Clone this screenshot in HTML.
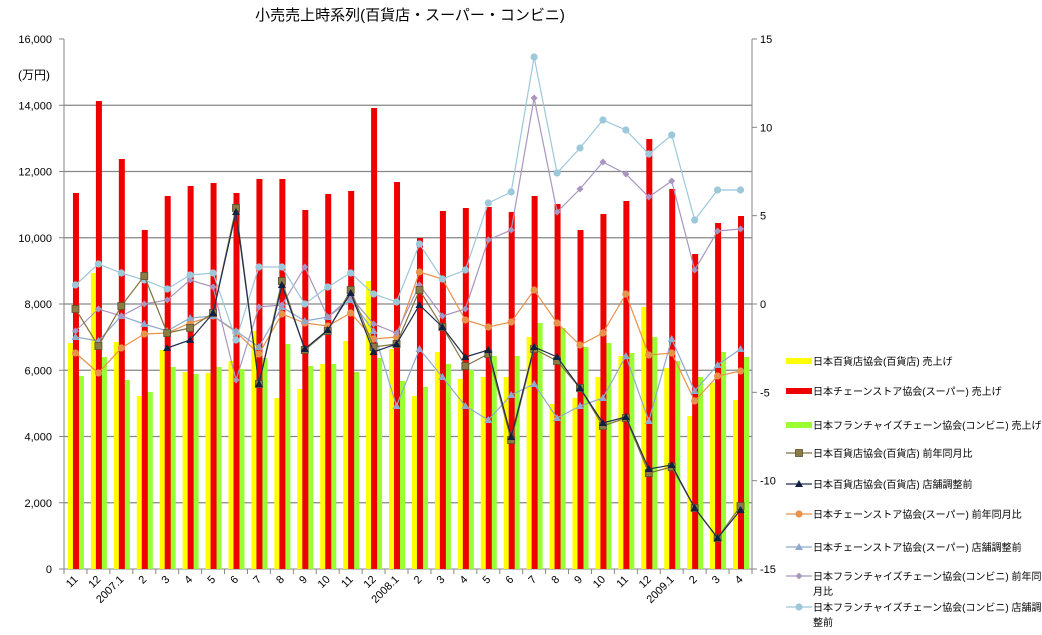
<!DOCTYPE html>
<html><head><meta charset="utf-8">
<style>
html,body{margin:0;padding:0;background:#fff;}
svg{display:block;font-family:"Liberation Sans","Noto Sans CJK JP",sans-serif;}
</style></head>
<body>
<svg id="c" width="1042" height="635" viewBox="0 0 1042 635" xmlns="http://www.w3.org/2000/svg">
<text x="410" y="20" font-size="15" text-anchor="middle" fill="#000">小売売上時系列(百貨店・スーパー・コンビニ)</text>
<text x="18" y="79" font-size="12" fill="#000">(万円)</text>
</svg>
<script>
const s=document.getElementById('c');const NS='http://www.w3.org/2000/svg';
function el(t,a,txt){const e=document.createElementNS(NS,t);for(const k in a)e.setAttribute(k,a[k]);if(txt!==undefined)e.textContent=txt;s.appendChild(e);return e;}
const X0=64,X1=752,T=39,B=569,W=(X1-X0)/30;
for(let i=1;i<8;i++){const y=B-i*(B-T)/8;el('line',{x1:X0,x2:X1,y1:y,y2:y,stroke:'#868686','stroke-width':1.2});}
el('line',{x1:X0,x2:X0,y1:T,y2:B,stroke:'#868686'});
const lv=['0','2,000','4,000','6,000','8,000','10,000','12,000','14,000','16,000'];
for(let i=0;i<=8;i++){const y=B-i*(B-T)/8;el('line',{x1:X0-5,x2:X0,y1:y,y2:y,stroke:'#868686'});el('text',{x:52,y:y+4,'font-size':11,'text-anchor':'end'},lv[i]);}
el('line',{x1:X1,x2:X1,y1:T,y2:B,stroke:'#868686'});
const rv=['-15','-10','-5','0','5','10','15'];
for(let i=0;i<=6;i++){const y=B-i*(B-T)/6;el('line',{x1:X1,x2:X1+5,y1:y,y2:y,stroke:'#868686'});el('text',{x:760,y:y+4,'font-size':11,'text-anchor':'start'},rv[i]);}
el('line',{x1:X0,x2:X1,y1:B,y2:B,stroke:'#868686'});
const labs=['11','12','2007.1','2','3','4','5','6','7','8','9','10','11','12','2008.1','2','3','4','5','6','7','8','9','10','11','12','2009.1','2','3','4'];
for(let i=0;i<=30;i++){const x=X0+i*W;el('line',{x1:x,x2:x,y1:B,y2:B+5,stroke:'#868686'});}
const cx=i=>X0+W*(i+0.5);
labs.forEach((l,i)=>{const x=cx(i)+3,y=580;el('text',{x:x,y:y,'font-size':11,'text-anchor':'end',transform:`rotate(-45 ${x} ${y})`},l);});
const red=[193,101,159,230,196,186,183,193,179,179,210,194,191,108,182,238,211,208,207,212,196,204,230,214,201,139,189,254,223,216];
const yel=[343,273,342,396,350,372,373,361,331,398,389,364,341,281,349,396,352,379,377,377,337,404,398,377,356,307,368,416,383,400];
const grn=[376,357,380,392,367,374,367,369,358,344,366,364,372,358,381,387,364,370,356,356,323,328,347,343,353,337,361,377,352,357];
for(let i=0;i<30;i++){const c=cx(i);
el('rect',{x:c-7.5,y:yel[i],width:5.5,height:B-yel[i],fill:'#FFFF00'});
el('rect',{x:c+3,y:grn[i],width:5.5,height:B-grn[i],fill:'#99FF33'});
el('rect',{x:c-2.5,y:red[i],width:6,height:B-red[i],fill:'#EE0000'});}
const series=[
 {c:'#E8924A',m:'o',d:[353,373,348,334,333,323,316,332,354,314,323,326,313,339,337,272,279,320,327,322,290,323,345,333,294,355,353,401,376,371]},
 {c:'#8FAACC',m:'t',d:[337,341,316,324,331,318,316,331,347,307,321,317,300,331,406,349,377,406,420,395,384,418,406,398,356,421,339,391,365,349]},
 {c:'#A896C0',m:'d',d:[331,309,316,304,300,280,287,380,307,305,267,317,297,324,333,285,316,309,240,230,98,212,189,162,174,197,181,270,231,229]},
 {c:'#9CC8DA',m:'o',d:[285,264,273,280,289,275,273,340,267,267,304,287,273,294,302,244,279,270,203,192,57,173,148,120,130,154,135,220,190,190]},
 {c:'#7F7440',m:'s',f:'#8B7B45',d:[309,346,306,276,333,328,313,208,384,281,350,331,290,347,344,290,327,366,354,440,349,361,388,426,418,473,467,508,538,506]},
 {c:'#1F2D4F',m:'t',f:'#0F2040',d:[null,null,null,null,348,340,313,212,384,285,349,330,293,352,344,305,327,357,350,437,347,357,388,423,417,469,465,508,538,510]}
];
function marker(m,x,y,f){
 if(m==='o')el('circle',{cx:x,cy:y,r:3.6,fill:f});
 else if(m==='s')el('rect',{x:x-3.5,y:y-3.5,width:7,height:7,fill:f,stroke:'#5a5030','stroke-width':0.8});
 else if(m==='t')el('polygon',{points:`${x},${y-4} ${x-4},${y+3} ${x+4},${y+3}`,fill:f});
 else el('polygon',{points:`${x},${y-3.5} ${x+3.5},${y} ${x},${y+3.5} ${x-3.5},${y}`,fill:f});
}
series.forEach(S=>{let p=[];S.d.forEach((v,i)=>{if(v!==null)p.push(cx(i).toFixed(1)+','+v);});
 el('polyline',{points:p.join(' '),fill:'none',stroke:S.c,'stroke-width':1.2});
 S.d.forEach((v,i)=>{if(v!==null)marker(S.m,cx(i),v,S.f||S.c);});});
const lg=[
 {t:'日本百貨店協会(百貨店) 売上げ',bar:'#FFFF00',y:361},
 {t:'日本チェーンストア協会(スーパー) 売上げ',bar:'#EE0000',y:391},
 {t:'日本フランチャイズチェーン協会(コンビニ) 売上げ',bar:'#99FF33',y:425},
 {t:'日本百貨店協会(百貨店) 前年同月比',c:'#7F7440',m:'s',f:'#8B7B45',y:453},
 {t:'日本百貨店協会(百貨店) 店舗調整前',c:'#1F2D4F',m:'t',f:'#0F2040',y:484},
 {t:'日本チェーンストア協会(スーパー) 前年同月比',c:'#E8924A',m:'o',y:514},
 {t:'日本チェーンストア協会(スーパー) 店舗調整前',c:'#8FAACC',m:'t',y:547},
 {t:'日本フランチャイズチェーン協会(コンビニ) 前年同',t2:'月比',c:'#A896C0',m:'d',y:576},
 {t:'日本フランチャイズチェーン協会(コンビニ) 店舗調',t2:'整前',c:'#9CC8DA',m:'o',y:607}
];
lg.forEach(L=>{
 if(L.bar)el('rect',{x:786,y:L.y-3,width:26,height:6,fill:L.bar});
 else{el('line',{x1:786,x2:812,y1:L.y,y2:L.y,stroke:L.c,'stroke-width':1.2});marker(L.m,799,L.y,L.f||L.c);}
 el('text',{x:813,y:L.y+4,'font-size':10},L.t);
 if(L.t2)el('text',{x:813,y:L.y+19,'font-size':10},L.t2);
});
</script>
</body></html>
